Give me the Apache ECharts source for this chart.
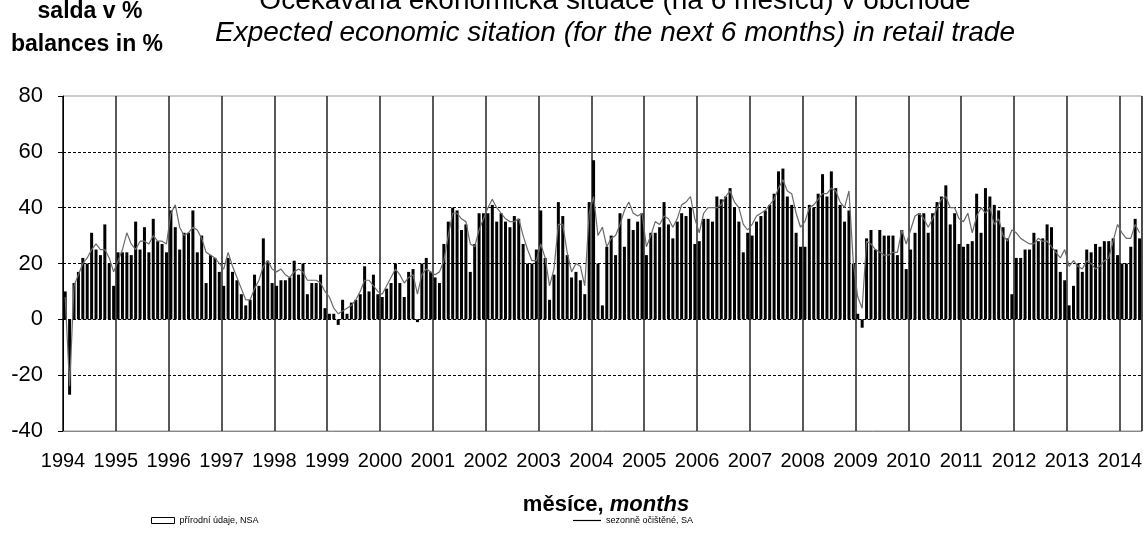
<!DOCTYPE html>
<html><head><meta charset="utf-8">
<script src="https://cdn.jsdelivr.net/npm/echarts@6/dist/echarts.min.js"></script>
<style>html,body{margin:0;padding:0;background:#fff}#c{width:1145px;height:551px}</style>
</head><body><div id="c"></div>
<script>
// ---- data ----
const years = ['1994','1995','1996','1997','1998','1999','2000','2001','2002','2003','2004','2005','2006','2007','2008','2009','2010','2011','2012','2013','2014'];
const monthsInLastYear = 5;

// NSA (přírodní údaje) – monthly balances, by year
const nsa1994 = [10,-27,13,17,22,20,31,25,23,34,20,12];
const nsa1995 = [24,24,24,23,35,25,33,24,36,28,27,24];
const nsa1996 = [39,33,25,31,31,39,24,30,13,23,22,17];
const nsa1997 = [12,22,17,14,9,5,7,16,12,29,21,13];
const nsa1998 = [12,14,14,15,21,16,20,9,13,13,16,4];
const nsa1999 = [2,2,-2,7,2,6,7,9,19,10,16,9];
const nsa2000 = [8,11,13,20,13,8,17,18,-1,20,22,17];
const nsa2001 = [15,13,27,35,40,39,32,34,17,27,38,38];
const nsa2002 = [38,41,35,38,35,33,37,36,27,20,20,25];
const nsa2003 = [39,22,7,16,42,37,23,15,17,14,9,42];
const nsa2004 = [57,20,5,26,30,23,38,26,36,32,35,38];
const nsa2005 = [23,31,31,33,42,34,29,35,38,37,40,27];
const nsa2006 = [28,36,36,35,44,43,44,47,40,35,24,31];
const nsa2007 = [30,35,37,39,41,45,53,54,44,41,31,26];
const nsa2008 = [26,41,40,45,52,44,53,47,41,35,39,20];
const nsa2009 = [2,-3,29,32,25,32,30,30,30,23,32,18];
const nsa2010 = [25,31,38,38,31,38,42,44,48,34,38,27];
const nsa2011 = [26,27,28,45,31,47,44,41,39,33,29,9];
const nsa2012 = [22,22,25,25,31,28,29,34,33,25,17,14];
const nsa2013 = [5,12,20,17,25,24,27,26,28,28,29,23];
const nsa2014 = [20,20,26,36,29];

// SA (sezonně očištěné) – monthly balances, by year
const sa1994 = [8,-24,12,16,20,22,25,27,25,25,22,17];
const sa1995 = [21,25,31,27,25,28,28,27,30,28,28,27];
const sa1996 = [38,41,33,30,31,33,32,29,24,23,22,20];
const sa1997 = [18,24,19,15,11,7,7,11,14,19,21,18];
const sa1998 = [17,18,16,15,17,18,17,14,14,14,13,10];
const sa1999 = [8,4,2,3,4,5,7,10,14,14,12,10];
const sa2000 = [9,12,15,18,16,13,15,16,9,16,18,17];
const sa2001 = [16,17,21,30,38,38,36,35,27,26,32,36];
const sa2002 = [40,43,40,38,36,35,35,36,30,25,21,21];
const sa2003 = [27,22,12,18,34,34,24,17,20,19,12,38];
const sa2004 = [44,30,33,26,29,30,34,39,42,38,37,38];
const sa2005 = [26,30,35,34,37,36,33,36,41,42,44,36];
const sa2006 = [31,38,40,40,40,41,44,46,42,40,34,32];
const sa2007 = [34,37,38,39,41,43,47,50,46,45,38,33];
const sa2008 = [35,40,41,43,45,45,47,46,42,40,46,20];
const sa2009 = [8,4,28,27,25,24,23,23,24,24,32,27];
const sa2010 = [32,37,38,36,33,36,40,43,44,40,40,36];
const sa2011 = [35,38,31,37,40,38,40,34,36,30,28,32];
const sa2012 = [31,29,28,27,27,29,28,28,26,24,22,25];
const sa2013 = [19,21,19,18,21,20,18,19,21,22,28,34];
const sa2014 = [31,29,29,34,31];

const yTicks = [-40,-20,0,20,40,60,80];

const nsa = [].concat(nsa1994,nsa1995,nsa1996,nsa1997,nsa1998,nsa1999,nsa2000,nsa2001,nsa2002,nsa2003,nsa2004,nsa2005,nsa2006,nsa2007,nsa2008,nsa2009,nsa2010,nsa2011,nsa2012,nsa2013,nsa2014);
const sa = [].concat(sa1994,sa1995,sa1996,sa1997,sa1998,sa1999,sa2000,sa2001,sa2002,sa2003,sa2004,sa2005,sa2006,sa2007,sa2008,sa2009,sa2010,sa2011,sa2012,sa2013,sa2014);

const categories = [];
years.forEach((y, i) => {
  const n = i === years.length - 1 ? monthsInLastYear : 12;
  for (let m = 1; m <= n; m++) categories.push(y + '-' + String(m).padStart(2, '0'));
});

const FONT = '"Liberation Sans", Arial, sans-serif';
const NSA_NAME = 'přírodní údaje, NSA';
const SA_NAME = 'sezonně očištěné, SA';

const chart = echarts.init(document.getElementById('c'), null, {renderer: 'canvas'});
chart.setOption({
  animation: false,
  backgroundColor: '#fff',
  textStyle: {fontFamily: FONT},
  grid: {left: 63, right: 0, top: 96, bottom: 120, show: true, borderColor: '#999', borderWidth: 1, backgroundColor: 'transparent'},
  xAxis: [
    {type: 'category', data: categories, boundaryGap: true,
     axisLine: {onZero: false, lineStyle: {color: '#888', width: 1}},
     axisTick: {show: false}, axisLabel: {show: false}, splitLine: {show: false}},
    {type: 'value', min: 0, max: categories.length, interval: 12, position: 'bottom',
     axisLine: {show: false}, axisTick: {show: false},
     splitLine: {show: true, lineStyle: {color: '#222', width: 1.5}},
     axisLabel: {fontSize: 20, fontFamily: FONT, color: '#000', margin: 20,
       formatter: v => (v % 12 === 0 && years[v / 12]) ? years[v / 12] : ''}}
  ],
  yAxis: {type: 'value', min: yTicks[0], max: yTicks[yTicks.length - 1], interval: 20,
    axisLine: {show: true, lineStyle: {color: '#000', width: 1}},
    axisTick: {show: true, length: 5, lineStyle: {color: '#000'}},
    axisLabel: {fontSize: 22, fontFamily: FONT, color: '#000', margin: 20},
    splitLine: {show: true, showMinLine: false, showMaxLine: false, lineStyle: {type: [3, 2], color: '#000', width: 1}}},
  legend: [
    {left: 146, top: 511, itemWidth: 23, itemHeight: 6, itemGap: 10,
     textStyle: {fontSize: 9, color: '#000', fontFamily: FONT},
     data: [{name: NSA_NAME, icon: 'rect', itemStyle: {color: '#fff', borderColor: '#000', borderWidth: 1}}]},
    {left: 568, top: 511, itemWidth: 28, itemHeight: 6,
     textStyle: {fontSize: 9, color: '#000', fontFamily: FONT},
     data: [{name: SA_NAME, icon: 'path://M0,0H28V1.2H0Z', itemStyle: {color: '#000'}}]}
  ],
  graphic: [
    {type: 'text', x: 615, y: 1, style: {text: 'Očekávaná ekonomická situace (na 6 měsíců) v obchodě', font: '28px ' + FONT, fill: '#000', align: 'center', verticalAlign: 'middle'}},
    {type: 'text', x: 615, y: 33, style: {text: 'Expected economic sitation (for the next 6 months) in retail trade', font: 'italic 28px ' + FONT, fill: '#000', align: 'center', verticalAlign: 'middle'}},
    {type: 'text', x: 90, y: 12, style: {text: 'salda v %', font: 'bold 23px ' + FONT, fill: '#000', align: 'center', verticalAlign: 'middle'}},
    {type: 'text', x: 87, y: 45, style: {text: 'balances in %', font: 'bold 23px ' + FONT, fill: '#000', align: 'center', verticalAlign: 'middle'}},
    {type: 'text', x: 606, y: 505, style: {
      text: '{a|měsíce, }{b|months}', align: 'center', verticalAlign: 'middle',
      rich: {a: {fontSize: 22, fontWeight: 'bold', fontFamily: FONT, fill: '#000'},
             b: {fontSize: 22, fontWeight: 'bold', fontStyle: 'italic', fontFamily: FONT, fill: '#000'}}}}
  ],
  series: [
    {name: NSA_NAME, type: 'bar', xAxisIndex: 0, data: nsa, barWidth: 3,
     itemStyle: {color: '#fff', borderColor: '#000', borderWidth: 2}, z: 2},
    {name: SA_NAME, type: 'line', xAxisIndex: 0, data: sa, showSymbol: false, symbol: 'none',
     lineStyle: {color: '#6a6a6a', width: 1.2}, z: 3}
  ]
});
</script>
</body></html>
